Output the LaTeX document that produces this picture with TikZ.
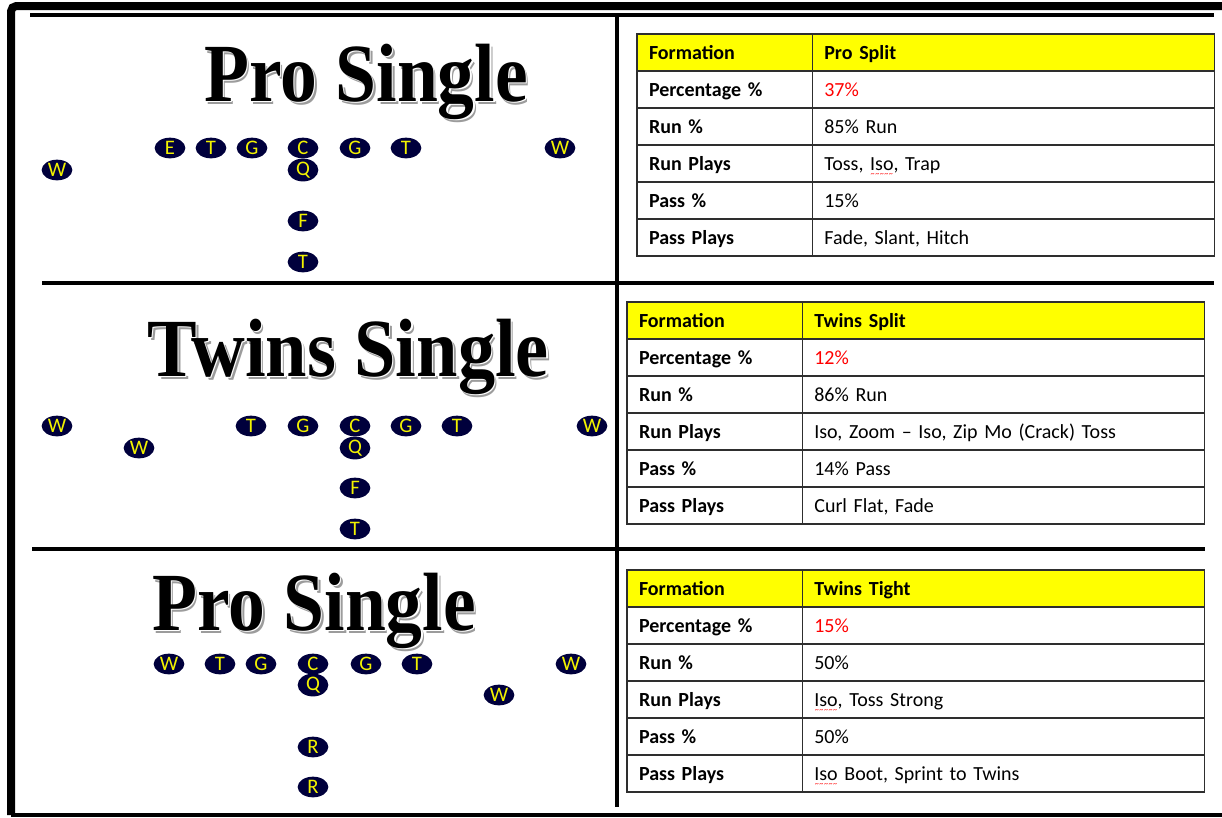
\documentclass[tikz,border=0pt]{standalone}
\usepackage{fontspec}
\setmainfont{Carlito}
\newfontfamily\titlefont{Liberation Serif}
\usepackage{graphicx}
\usetikzlibrary{positioning,shapes.geometric}
\definecolor{navy}{HTML}{00003C}
\definecolor{plyellow}{HTML}{F2F200}
\definecolor{hdryellow}{HTML}{FFFF00}
\definecolor{gridgray}{HTML}{2E2E2E}
\definecolor{pctred}{HTML}{FF0000}
\definecolor{shadowgray}{HTML}{9C9C9C}
\newcommand{\spellmark}[1]{\setbox0=\hbox{#1}\rlap{\raisebox{-4.5pt}[0pt][0pt]{\textcolor{pctred}{\hbox to \wd0{\fontsize{6}{6}\selectfont\xleaders\hbox{\char`\~}\hfill}}}}\box0\relax}
\newcommand{\shadowtext}[1]{\rlap{\hspace{2.3pt}\raisebox{-2.3pt}{\textcolor{shadowgray}{#1}}}\rlap{\hspace{1.1pt}\raisebox{-1.1pt}{\textcolor{white}{#1}}}#1}

\begin{document}
\begin{tikzpicture}[x=0.75pt, y=-0.75pt,
  player/.style={ellipse, fill=navy, text=plyellow, minimum width=23pt, minimum height=15.5pt, inner sep=0pt, font=\fontsize{15.5}{15.5}\selectfont},
  title/.style={anchor=base west, inner sep=0pt, font=\titlefont\bfseries\fontsize{62}{62}\selectfont},
  cell/.style={draw=gridgray, line width=1.2pt, outer sep=0pt, minimum height=27.75pt, inner xsep=9pt, inner ysep=0pt, text height=11pt, text depth=0.8pt, align=left, font=\fontsize{15}{18}\selectfont},
  lcell/.style={cell, anchor=north west, text width=113.5pt, font=\bfseries\fontsize{15}{18}\selectfont},
  rcell/.style={cell, text width=283.5pt},
  hdr/.style={fill=hdryellow, font=\bfseries\fontsize{15}{18}\selectfont},
  rule/.style={line width=2.6pt}
]
\useasboundingbox (0,0) rectangle (1222,818);

% frame
\draw[line width=6pt, rounded corners=4pt] (11,815) -- (11,6) -- (1222,6);
\draw[line width=3pt] (30,15) -- (1214,15);
\draw[rule] (42,283) -- (1214,283);
\draw[rule] (32,549) -- (1205,549);
\draw[line width=3pt] (11,815) -- (1222,815);
\draw[rule] (617,15) -- (617,807);

% titles
\node[title] (ttlA) at (204,101) {\scalebox{0.89}[1]{\shadowtext{Pro Single}}};
\node[title] (ttlB) at (147,376) {\scalebox{0.9}[1]{\shadowtext{Twins Single}}};
\node[title] (ttlC) at (152,630) {\scalebox{0.89}[1]{\shadowtext{Pro Single}}};

% pro split players
\foreach \lab/\px [count=\i] in {E/170,T/211,G/252,C/303,G/355,T/406,W/560}
  \node[player] (pa\i) at (\px,148) {\lab};
\node[player] (paw) at (57,170) {W};
\node[player] (paq) at (303,170) {Q};
\node[player] (paf) at (303,221) {F};
\node[player] (pat) at (303,262) {T};

% twins split players
\foreach \lab/\px [count=\i] in {W/57,T/251,G/303,C/355,G/406,T/457,W/592}
  \node[player] (pb\i) at (\px,426) {\lab};
\node[player] (pbw) at (139,448) {W};
\node[player] (pbq) at (355,448) {Q};
\node[player] (pbf) at (355,488) {F};
\node[player] (pbt) at (355,529) {T};

% twins tight players
\foreach \lab/\px [count=\i] in {W/169,T/220,G/261,C/313,G/366,T/417,W/571}
  \node[player] (pc\i) at (\px,664) {\lab};
\node[player] (pcq) at (313,685) {Q};
\node[player] (pcw) at (499,695) {W};
\node[player] (pcr) at (313,747) {R};
\node[player] (pcs) at (313,787) {R};

% tables
\node[lcell, hdr] (psl0) at (637,34) {Formation};
\node[rcell, hdr, right=0pt of psl0] (psr0) {Pro Split};
\foreach \lab/\val [count=\r] in {Percentage \%/\textcolor{pctred}{37\%}, Run \%/85\% Run, Run Plays/{Toss, \spellmark{Iso}, Trap}, Pass \%/15\%, Pass Plays/{Fade, Slant, Hitch}}{
  \node[lcell] (psl\r) at (637,{34+37*\r}) {\lab};
  \node[rcell, right=0pt of psl\r] (psr\r) {\val};
}

\node[lcell, hdr] (tsl0) at (627,302) {Formation};
\node[rcell, hdr, right=0pt of tsl0] (tsr0) {Twins Split};
\foreach \lab/\val [count=\r] in {Percentage \%/\textcolor{pctred}{12\%}, Run \%/86\% Run, Run Plays/{Iso, Zoom -- Iso, Zip Mo (Crack) Toss}, Pass \%/14\% Pass, Pass Plays/{Curl Flat, Fade}}{
  \node[lcell] (tsl\r) at (627,{302+37*\r}) {\lab};
  \node[rcell, right=0pt of tsl\r] (tsr\r) {\val};
}

\node[lcell, hdr] (ttl0) at (627,570) {Formation};
\node[rcell, hdr, right=0pt of ttl0] (ttr0) {Twins Tight};
\foreach \lab/\val [count=\r] in {Percentage \%/\textcolor{pctred}{15\%}, Run \%/50\%, Run Plays/{\spellmark{Iso}, Toss Strong}, Pass \%/50\%, Pass Plays/{\spellmark{Iso} Boot, Sprint to Twins}}{
  \node[lcell] (ttl\r) at (627,{570+37*\r}) {\lab};
  \node[rcell, right=0pt of ttl\r] (ttr\r) {\val};
}
\end{tikzpicture}
\end{document}
